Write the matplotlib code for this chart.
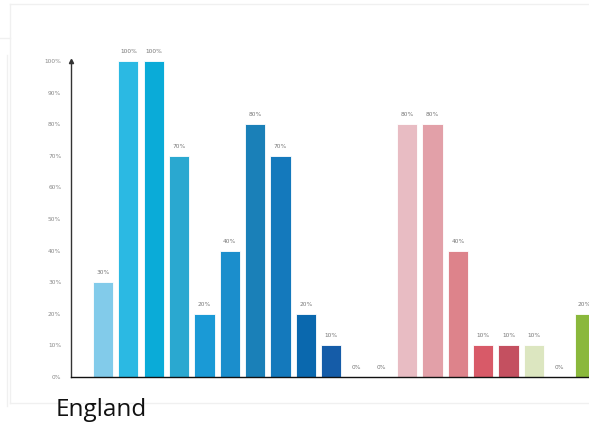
import matplotlib
matplotlib.use("Agg")
import matplotlib.pyplot as plt
from matplotlib.lines import Line2D

# Share of respondents per group (percent)
values = [30, 100, 100, 70, 20, 40, 80, 70, 20, 10, 0, 0, 80, 80, 40, 10, 10, 10, 0, 20]
colors = ["#82CBEA", "#2BB9E3", "#0AABD8", "#2AA8D0", "#1A9AD6", "#1B8ECC",
          "#1A80B8", "#1479BC", "#0A68AE", "#155CA8", "#155CA8", "#155CA8",
          "#E8BCC3", "#E2A0A8", "#DD838B", "#D85A68", "#C45060", "#DCE6C0",
          "#8AB83C", "#8AB83C"]
yticks = [0, 10, 20, 30, 40, 50, 60, 70, 80, 90, 100]
ytick_labels = [f"{t}%" for t in yticks]
title = "England"

W, H = 589, 422
fig = plt.figure(figsize=(W / 100, H / 100), dpi=100)

# faint frame lines around the panel
frame = "#f0f0f0"
for (xs, ys) in [((10, 588), (4, 4)), ((10, 10), (4, 403)), ((10, 589), (403, 403)),
                 ((7, 7), (55, 406)), ((0, 10), (38, 38))]:
    fig.add_artist(Line2D([x / W for x in xs], [1 - y / H for y in ys],
                          color=frame, lw=1.0, transform=fig.transFigure))

left_px, bottom_px, top_px, right_px = 71, 377, 61, 620
ax = fig.add_axes([left_px / W, 1 - bottom_px / H,
                   (right_px - left_px) / W, (bottom_px - top_px) / H])

x = list(range(len(values)))
ax.bar(x, values, width=0.8, color=colors, edgecolor="white", linewidth=0.6, zorder=2)

for xi, v in zip(x, values):
    ax.text(xi, v + 2.2, f"{v}%", ha="center", va="bottom",
            fontsize=4.2, color="#777777", clip_on=False)

unit = 25.35
ax.set_xlim((left_px - 103) / unit, (right_px - 103) / unit)
ax.set_ylim(0, 100)

ax.set_yticks(yticks)
ax.set_yticklabels(ytick_labels, fontsize=4.2, color="#888888")
ax.tick_params(axis="y", length=0, pad=7)
ax.set_xticks([])

for s in ["top", "right"]:
    ax.spines[s].set_visible(False)
ax.spines["left"].set_color("#333333")
ax.spines["left"].set_linewidth(1.0)
ax.spines["bottom"].set_color("#111111")
ax.spines["bottom"].set_linewidth(1.0)

# arrow head on top of the value axis
ax.plot([ax.get_xlim()[0]], [100], marker="^", markersize=3, color="#333333",
        clip_on=False, zorder=3)

fig.text(56 / W, 1 - 416 / H, title, fontsize=17.5, family="Open Sans",
         color="#111111", ha="left", va="baseline")

fig.savefig("out.png", dpi=100, facecolor="white")
